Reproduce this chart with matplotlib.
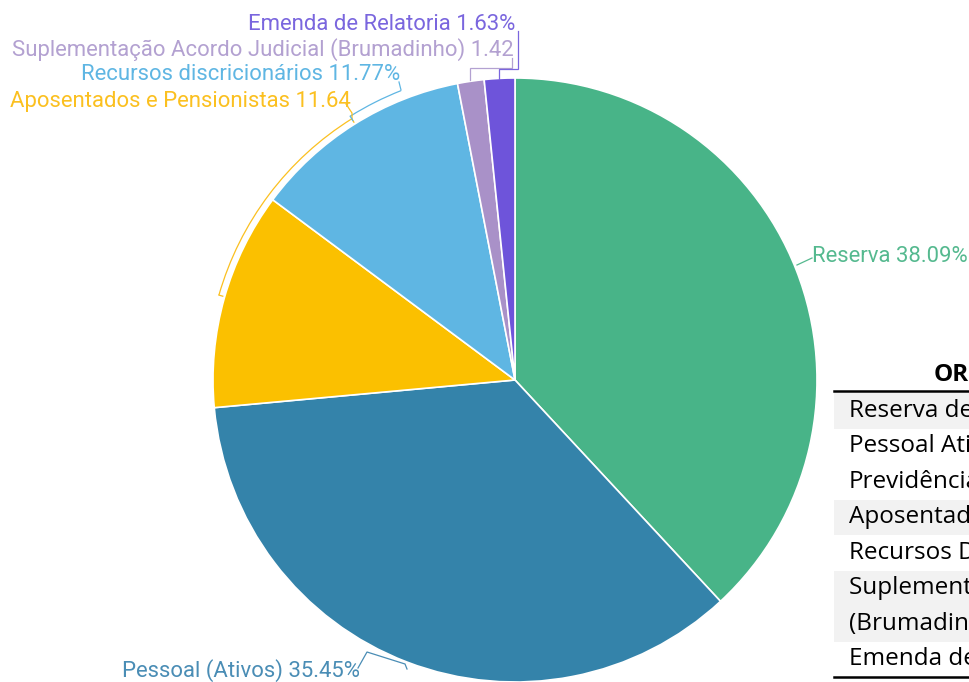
import numpy as np
import matplotlib.pyplot as plt
from matplotlib.patches import Rectangle, Arc

# dados do grafico (sentido horario a partir do topo)
categorias = ["Reserva", "Pessoal (Ativos)", "Aposentados e Pensionistas",
              "Recursos discricionários",
              "Suplementação Acordo Judicial (Brumadinho)",
              "Emenda de Relatoria"]
percentuais = [38.09, 35.45, 11.64, 11.77, 1.42, 1.63]
sufixos = ["%", "%", "", "%", "%", "%"]

cores = ["#48b488", "#3483aa", "#fbc000", "#5fb6e3", "#a991c8", "#6e54da"]
cores_txt = ["#55b98f", "#4a8db5", "#fbc020", "#5fb6e3", "#b3a1d1", "#7a66de"]

# tabela (cortada na borda direita)
tabela_titulo = "ORÇAMENTO"
tabela_linhas = ["Reserva de Contingência", "Pessoal Ativos", "Previdência",
                 "Aposentados e Pensionistas", "Recursos Discricionários",
                 "Suplementação Acordo Judicial\n(Brumadinho)",
                 "Emenda de Relatoria"]
linhas_sombreadas = [0, 3, 5]

W, H = 970, 682


def px(x, y):
    # coordenadas em pixels (origem no topo) -> dados
    return x, H - y


fig = plt.figure(figsize=(W / 100, H / 100), dpi=100)
ax = fig.add_axes([0, 0, 1, 1])

cx, cy = px(515, 380)
R = 302
wedges, _ = ax.pie(percentuais, colors=cores, startangle=90, counterclock=False,
                   center=(cx, cy), radius=R,
                   wedgeprops=dict(edgecolor="white", linewidth=1.2))
ax.set_xlim(0, W)
ax.set_ylim(0, H)
ax.set_aspect("equal")
ax.axis("off")

rotulos = [f"{c} {p:.2f}{s}" for c, p, s in zip(categorias, percentuais, sufixos)]
fonte = dict(family="Roboto", fontsize=15.9)

# posicoes dos rotulos (px): x, y, alinhamento
pos_rot = [(812, 257, "left"), (122, 671, "left"), (10, 101, "left"),
           (400, 75, "right"), (12, 50, "left"), (515, 25, "right")]

for i, (x, y, ha) in enumerate(pos_rot):
    t = ax.text(*px(x, y), rotulos[i], color=cores_txt[i], ha=ha, va="center", **fonte)
    if i == 4:
        # o % deste rotulo aparece cortado no original
        clip = Rectangle(px(0, 70), 513, 40, transform=ax.transData)
        t.set_clip_on(True)
        t.set_clip_path(clip)


def linha(pts, cor):
    xs, ys = zip(*[px(a, b) for a, b in pts])
    ax.plot(xs, ys, color=cor, lw=0.9, solid_joinstyle="miter")


def colchete(a0, a1, r_out, r_in, cor, ticks=(True, True)):
    ax.add_patch(Arc((cx, cy), 2 * r_out, 2 * r_out, theta1=a0, theta2=a1,
                     color=cor, lw=0.9))
    for a, on in zip((a0, a1), ticks):
        if on:
            t = np.radians(a)
            ax.plot([cx + r_out * np.cos(t), cx + r_in * np.cos(t)],
                    [cy + r_out * np.sin(t), cy + r_in * np.sin(t)], color=cor, lw=0.9)


# linhas de chamada
linha([(797, 265), (812, 258)], cores_txt[0])
linha([(358, 668), (367, 652), (405, 664), (407, 669)], cores_txt[1])
linha([(346, 104), (352, 113), (352, 119)], cores_txt[2])
colchete(122, 164, 308, 304, cores_txt[2])
linha([(399, 82), (401, 90)], cores_txt[3])
colchete(111.5, 122, 311, 306, cores_txt[3], ticks=(False, True))
linha([(470, 80), (470, 68), (512, 68), (512, 58)], cores_txt[4])
linha([(499, 79), (499, 69), (518, 69), (518, 31)], cores_txt[5])

# tabela
tfonte = dict(family="Open Sans", fontsize=17.5, color="black")
ax.text(*px(934, 375), tabela_titulo, ha="left", va="center", fontweight="bold", **tfonte)
ax.plot(*zip(px(834, 391), px(W, 391)), color="black", lw=1.8)

topo = 393
alt = 35.5
for i, nome in enumerate(tabela_linhas):
    partes = nome.split("\n")
    h = alt * len(partes)
    if i in linhas_sombreadas:
        ax.add_patch(Rectangle(px(834, topo + h), W - 834, h, color="#f2f2f2", lw=0))
    for j, p in enumerate(partes):
        ax.text(*px(849, topo + alt * j + alt / 2), p, ha="left", va="center", **tfonte)
    topo += h
ax.plot(*zip(px(834, topo), px(W, topo)), color="black", lw=1.8)

fig.savefig("out.png", dpi=100)
